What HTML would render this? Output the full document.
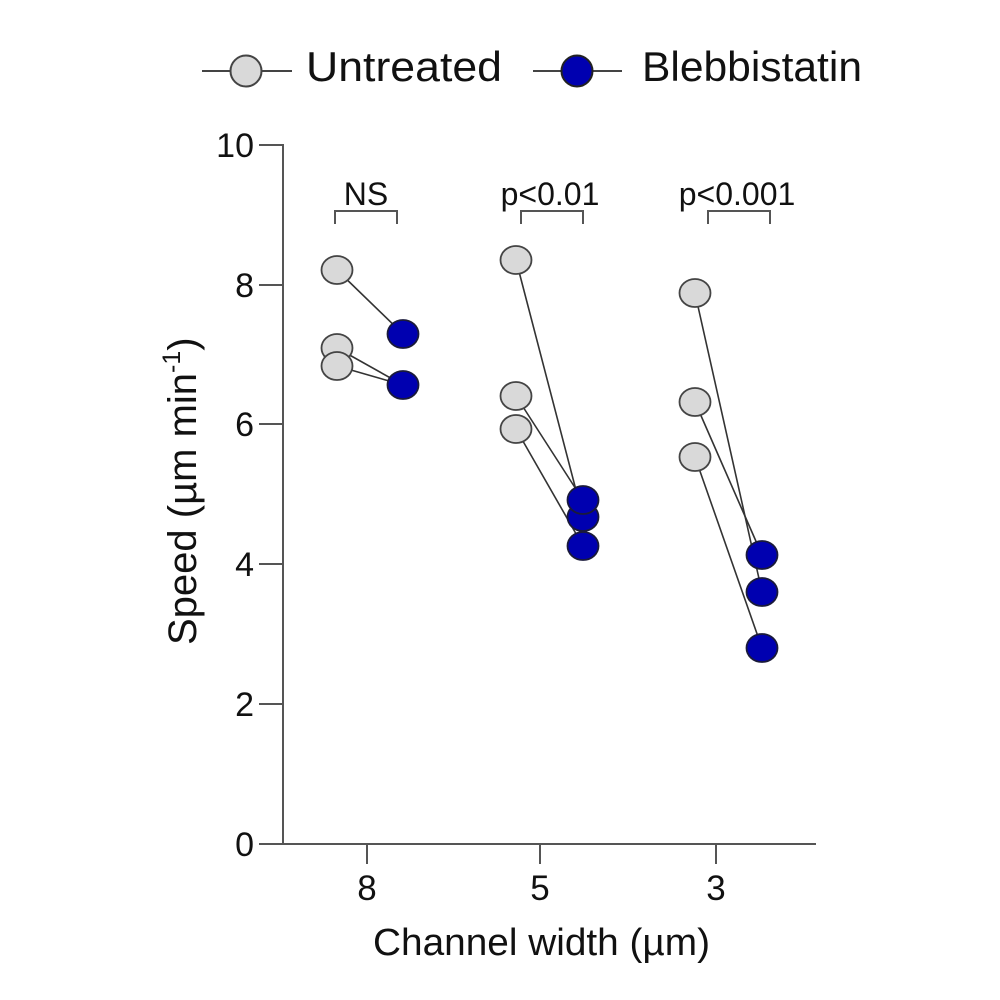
<!DOCTYPE html>
<html>
<head>
<meta charset="utf-8">
<style>
  html, body { margin: 0; padding: 0; background: #ffffff; }
  svg { display: block; }
  text { font-family: "Liberation Sans", Arial, sans-serif; fill: #111; }
</style>
</head>
<body>
<svg width="1000" height="1000" viewBox="0 0 1000 1000" xmlns="http://www.w3.org/2000/svg">
  <rect x="0" y="0" width="1000" height="1000" fill="#ffffff"/>

  <!-- Legend -->
  <line x1="202" y1="71" x2="292" y2="71" stroke="#444" stroke-width="2"/>
  <circle cx="246" cy="71" r="15.5" fill="#d9d9d9" stroke="#444" stroke-width="2"/>
  <text x="306" y="81" font-size="42" textLength="196" lengthAdjust="spacingAndGlyphs">Untreated</text>

  <line x1="533" y1="71" x2="622" y2="71" stroke="#444" stroke-width="2"/>
  <circle cx="577" cy="71" r="15.5" fill="#0000b0" stroke="#222" stroke-width="2"/>
  <text x="642" y="81" font-size="42" textLength="220" lengthAdjust="spacingAndGlyphs">Blebbistatin</text>

  <!-- Axes -->
  <g stroke="#555" stroke-width="2" fill="none">
    <line x1="283" y1="144" x2="283" y2="845"/>
    <line x1="259" y1="844" x2="816" y2="844"/>
    <!-- y ticks -->
    <line x1="259" y1="145" x2="283" y2="145"/>
    <line x1="259" y1="285" x2="283" y2="285"/>
    <line x1="259" y1="424" x2="283" y2="424"/>
    <line x1="259" y1="564" x2="283" y2="564"/>
    <line x1="259" y1="704" x2="283" y2="704"/>
    <!-- x ticks -->
    <line x1="367" y1="844" x2="367" y2="864"/>
    <line x1="540" y1="844" x2="540" y2="864"/>
    <line x1="716" y1="844" x2="716" y2="864"/>
  </g>

  <!-- Y tick labels -->
  <g font-size="34" text-anchor="end">
    <text x="254" y="157">10</text>
    <text x="254" y="297">8</text>
    <text x="254" y="436">6</text>
    <text x="254" y="576">4</text>
    <text x="254" y="716">2</text>
    <text x="254" y="856">0</text>
  </g>

  <!-- X tick labels -->
  <g font-size="35" text-anchor="middle">
    <text x="367" y="900">8</text>
    <text x="540" y="900">5</text>
    <text x="716" y="900">3</text>
  </g>

  <!-- Axis titles -->
  <text x="373" y="955" font-size="38" textLength="337" lengthAdjust="spacingAndGlyphs">Channel width (µm)</text>

  <g transform="translate(196,645) rotate(-90)">
    <text x="0" y="0" font-size="40">Speed (µm min<tspan font-size="25" dy="-16">-1</tspan><tspan font-size="40" dy="16">)</tspan></text>
  </g>

  <!-- Significance brackets -->
  <g stroke="#555" stroke-width="2" fill="none">
    <polyline points="335,224 335,211 397,211 397,224"/>
    <polyline points="521,224 521,211 583,211 583,224"/>
    <polyline points="708,224 708,211 770,211 770,224"/>
  </g>
  <g font-size="32" text-anchor="middle">
    <text x="366" y="205">NS</text>
    <text x="550" y="205">p&lt;0.01</text>
    <text x="737" y="205">p&lt;0.001</text>
  </g>

  <!-- Connecting lines -->
  <g stroke="#333" stroke-width="1.6">
    <!-- group 8 -->
    <line x1="337" y1="270" x2="403" y2="334"/>
    <line x1="337" y1="348" x2="403" y2="385"/>
    <line x1="337" y1="366" x2="403" y2="385"/>
    <!-- group 5 -->
    <line x1="516" y1="260" x2="583" y2="517"/>
    <line x1="516" y1="396" x2="583" y2="500"/>
    <line x1="516" y1="429" x2="583" y2="546"/>
    <!-- group 3 -->
    <line x1="695" y1="293" x2="762" y2="592"/>
    <line x1="695" y1="402" x2="762" y2="555"/>
    <line x1="695" y1="457" x2="762" y2="648"/>
  </g>

  <!-- Untreated points -->
  <g fill="#d9d9d9" stroke="#444" stroke-width="1.8">
    <ellipse cx="337" cy="348" rx="15.5" ry="14"/>
    <ellipse cx="337" cy="366" rx="15.5" ry="14"/>
    <ellipse cx="337" cy="270" rx="15.5" ry="14"/>
    <ellipse cx="516" cy="260" rx="15.5" ry="14"/>
    <ellipse cx="516" cy="396" rx="15.5" ry="14"/>
    <ellipse cx="516" cy="429" rx="15.5" ry="14"/>
    <ellipse cx="695" cy="293" rx="15.5" ry="14"/>
    <ellipse cx="695" cy="402" rx="15.5" ry="14"/>
    <ellipse cx="695" cy="457" rx="15.5" ry="14"/>
  </g>

  <!-- Blebbistatin points -->
  <g fill="#0000b0" stroke="#1a1a3a" stroke-width="1.8">
    <ellipse cx="403" cy="334" rx="15.5" ry="14"/>
    <ellipse cx="403" cy="385" rx="15.5" ry="14"/>
    <ellipse cx="583" cy="546" rx="15.5" ry="14"/>
    <ellipse cx="583" cy="517" rx="15.5" ry="14"/>
    <ellipse cx="583" cy="500" rx="15.5" ry="14"/>
    <ellipse cx="762" cy="648" rx="15.5" ry="14"/>
    <ellipse cx="762" cy="592" rx="15.5" ry="14"/>
    <ellipse cx="762" cy="555" rx="15.5" ry="14"/>
  </g>
</svg>
</body>
</html>
